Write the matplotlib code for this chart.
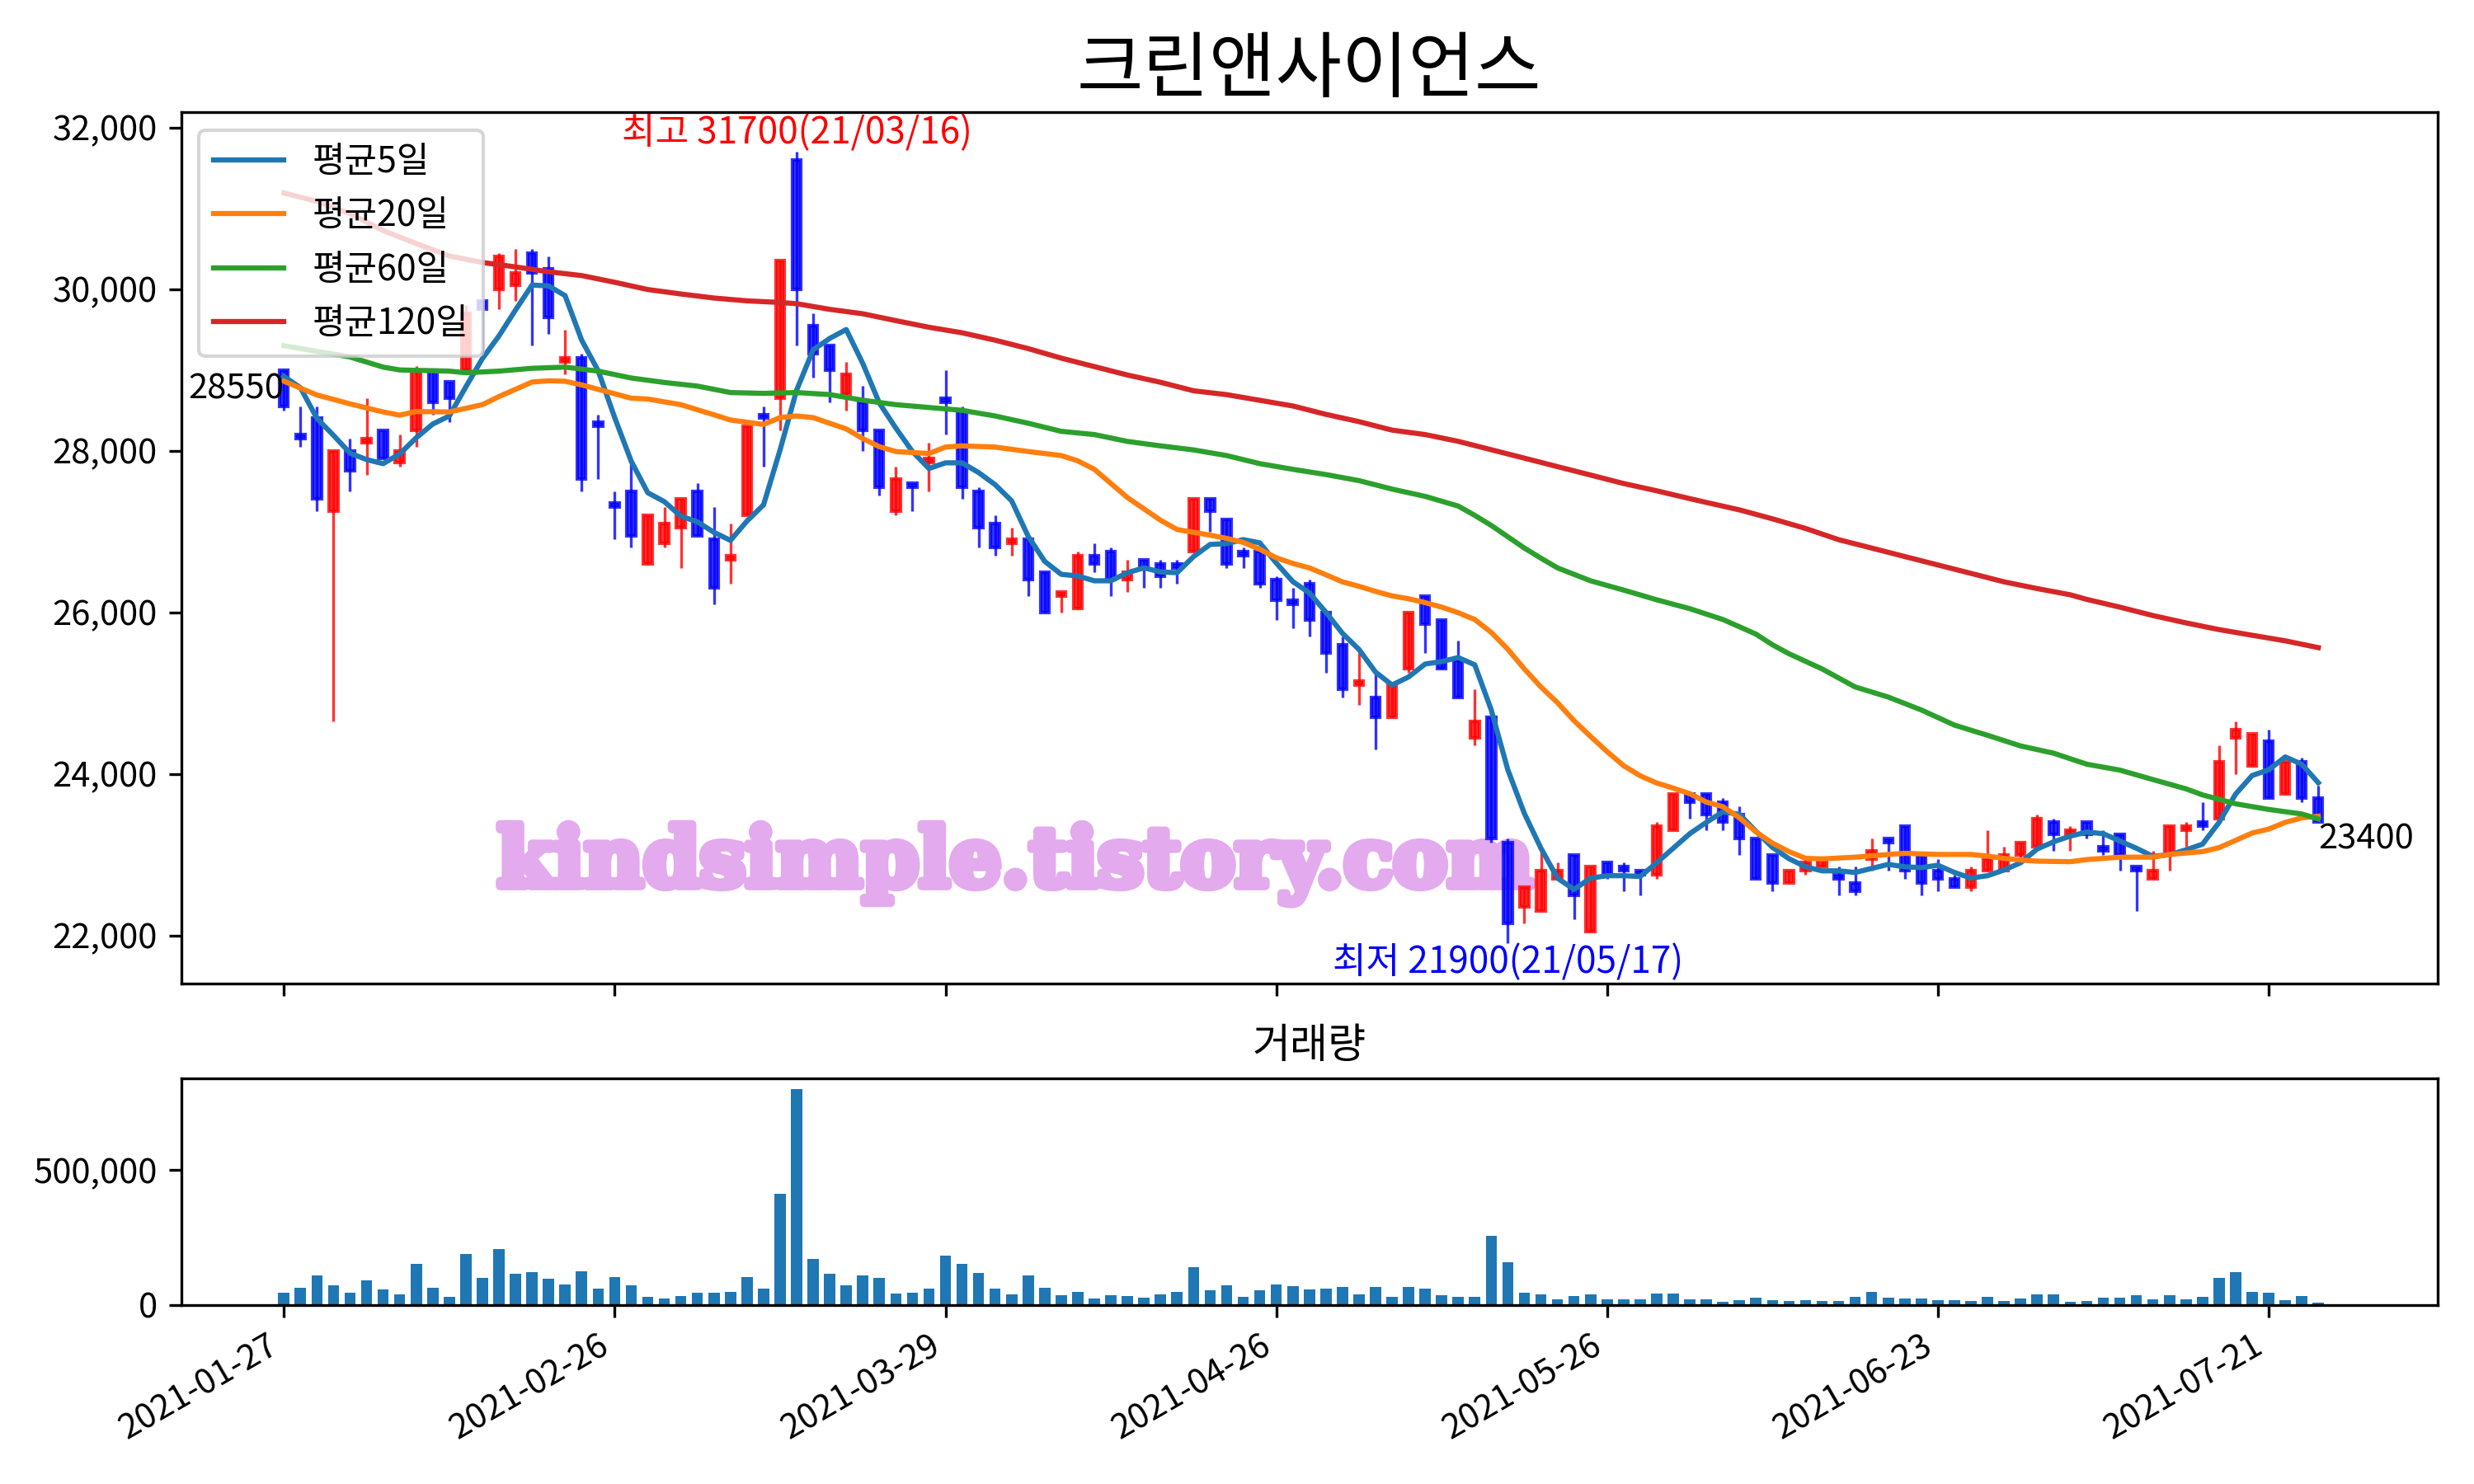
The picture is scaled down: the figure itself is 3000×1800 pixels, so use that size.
import numpy as np
import matplotlib
matplotlib.use('Agg')
import matplotlib.pyplot as plt
import matplotlib.patheffects as pe
from matplotlib.ticker import FuncFormatter

plt.rcParams['font.family'] = ['Noto Sans CJK KR', 'DejaVu Sans']
plt.rcParams['font.size'] = 10
plt.rcParams['axes.unicode_minus'] = False

title = '크린앤사이언스'
tick_labels = ['2021-01-27', '2021-02-26', '2021-03-29', '2021-04-26',
               '2021-05-26', '2021-06-23', '2021-07-21']

# daily OHLC, 2021-01-27 .. 2021-07-26 (trading days)
opens = [29000, 28200, 28400, 27250, 28000, 28100, 28250, 27850, 28250, 29000,
         28850, 29000, 29850, 30000, 30050, 30450, 30250, 29100, 29150, 28350,
         27350, 27500, 26600, 26850, 27050, 27500, 26900, 26650, 27200, 28450,
         28650, 31600, 29550, 29300, 28700, 28600, 28250, 27250, 27600, 27850,
         28650, 28500, 27500, 27100, 26850, 26900, 26500, 26200, 26050, 26700,
         26750, 26400, 26650, 26600, 26600, 26750, 27400, 27150, 26750, 26750,
         26400, 26150, 26350, 26000, 25600, 25100, 24950, 24700, 25300, 26200,
         25900, 25400, 24450, 24700, 23150, 22350, 22300, 22700, 23000, 22050,
         22900, 22850, 22800, 22750, 23300, 23750, 23750, 23650, 23500, 23200,
         23000, 22650, 22800, 22850, 22750, 22650, 22950, 23200, 23350, 23000,
         22800, 22700, 22600, 22800, 22800, 23000, 23100, 23400, 23250, 23400,
         23100, 23250, 22850, 22700, 23000, 23300, 23400, 23450, 24450, 24100,
         24400, 23750, 24150, 23700]
highs = [29000, 28550, 28550, 28000, 28150, 28650, 28250, 28200, 29050, 29000,
         28850, 29800, 29850, 30450, 30500, 30500, 30400, 29500, 29200, 28450,
         27500, 27850, 27200, 27300, 27400, 27600, 27300, 27100, 28300, 28550,
         30350, 31700, 29700, 29300, 29100, 28800, 28250, 27800, 27600, 28100,
         29000, 28550, 27550, 27200, 27050, 26900, 26500, 26250, 26750, 26850,
         26800, 26650, 26650, 26650, 26650, 27400, 27400, 27150, 26800, 26800,
         26450, 26300, 26400, 26000, 25700, 25500, 25250, 25100, 26000, 26200,
         25900, 25650, 25050, 24700, 23200, 22600, 23050, 22900, 23000, 22850,
         22900, 22900, 22800, 23400, 23750, 23750, 23750, 23700, 23600, 23200,
         23000, 22800, 22950, 22950, 22850, 22850, 23200, 23200, 23350, 23000,
         22950, 22750, 22850, 23300, 23100, 23150, 23500, 23450, 23350, 23400,
         23300, 23250, 22850, 23050, 23350, 23400, 23650, 24350, 24650, 24500,
         24550, 24150, 24200, 23850]
lows = [28500, 28050, 27250, 24650, 27500, 27700, 27900, 27800, 28050, 28450,
        28350, 29000, 29200, 29750, 29850, 29300, 29450, 28950, 27500, 27650,
        26900, 26800, 26600, 26800, 26550, 26950, 26100, 26350, 27200, 27800,
        28250, 29300, 28900, 28600, 28500, 28000, 27450, 27200, 27250, 27500,
        28200, 27400, 26800, 26700, 26700, 26200, 26000, 26000, 26050, 26500,
        26200, 26250, 26300, 26300, 26350, 26750, 27000, 26550, 26550, 26300,
        25900, 25800, 25700, 25250, 24950, 24850, 24300, 24700, 25250, 25500,
        25300, 24950, 24350, 23150, 21900, 22150, 22300, 22700, 22200, 22050,
        22700, 22550, 22500, 22700, 23300, 23450, 23300, 23300, 23000, 22700,
        22550, 22650, 22750, 22850, 22500, 22500, 22800, 22800, 22700, 22500,
        22550, 22600, 22550, 22800, 22800, 22950, 23100, 23050, 23050, 23200,
        23000, 22800, 22300, 22700, 22800, 23100, 23300, 23450, 24000, 24100,
        23700, 23750, 23650, 23400]
closes = [28550, 28150, 27400, 28000, 27750, 28150, 27900, 28000, 29000, 28600,
          28650, 29700, 29750, 30400, 30200, 30200, 29650, 29150, 27650, 28300,
          27300, 26950, 27200, 27100, 27400, 26950, 26300, 26700, 28300, 28400,
          30350, 30000, 29200, 29000, 28950, 28250, 27550, 27650, 27550, 27900,
          28600, 27550, 27050, 26800, 26900, 26400, 26000, 26250, 26700, 26600,
          26400, 26500, 26550, 26450, 26550, 27400, 27250, 26600, 26700, 26350,
          26150, 26100, 25900, 25500, 25050, 25150, 24700, 25100, 26000, 25850,
          25300, 24950, 24650, 23200, 22150, 22600, 22800, 22800, 22500, 22850,
          22750, 22800, 22750, 23350, 23750, 23650, 23500, 23400, 23200, 22700,
          22650, 22800, 22900, 22950, 22700, 22550, 23050, 23150, 22800, 22650,
          22700, 22600, 22800, 22950, 23000, 23150, 23450, 23250, 23300, 23250,
          23050, 23000, 22800, 22800, 23350, 23350, 23350, 24150, 24550, 24500,
          23700, 24150, 23700, 23400]
# closes of the four sessions before the window (seed for the 5-day average)
prior_closes = [28850, 29300, 29050, 28850]

volumes = [45, 63, 109, 72, 45, 91, 57, 39, 152, 63,
           30, 188, 100, 207, 115, 121, 97, 75, 124, 60,
           103, 72, 30, 23, 33, 45, 45, 48, 103, 60,
           411, 799, 170, 115, 72, 109, 100, 42, 45, 60,
           182, 152, 118, 60, 39, 109, 63, 36, 48, 23,
           36, 33, 26, 39, 48, 140, 54, 72, 30, 54,
           75, 69, 57, 60, 66, 39, 66, 30, 66, 60,
           36, 30, 30, 256, 158, 45, 39, 20, 33, 39,
           20, 20, 20, 42, 42, 20, 20, 11, 17, 26,
           17, 14, 17, 14, 14, 30, 48, 26, 23, 23,
           17, 17, 14, 30, 14, 23, 39, 39, 11, 14,
           26, 26, 36, 20, 36, 20, 30, 100, 121, 48,
           45, 17, 33, 8]  # thousand shares

# longer moving averages (day index, value)
ma20_idx = [0, 2, 4, 6, 7, 8, 10, 12, 13, 15, 16, 17, 18, 21, 22, 24, 26, 27, 29, 30,
            31, 32, 34, 35, 36, 37, 39, 40, 41, 43, 45, 47, 48, 49, 50, 51, 52, 53, 54, 55,
            56, 57, 58, 59, 60, 61, 62, 63, 64, 65, 66, 67, 68, 69, 70, 71, 72, 73, 74, 75,
            76, 77, 78, 79, 80, 81, 82, 83, 84, 85, 86, 87, 88, 89, 90, 91, 92, 93, 95, 97,
            98, 100, 102, 103, 104, 105, 106, 108, 109, 111, 113, 114, 116, 117, 118, 119, 120, 121, 122, 123]
ma20_val = [28860, 28690, 28580, 28480, 28440, 28485, 28480, 28570, 28670, 28850, 28865, 28860, 28815, 28650, 28640, 28570, 28445, 28380, 28325, 28410,
            28430, 28410, 28270, 28150, 28050, 27990, 27965, 28045, 28060, 28045, 27990, 27940, 27875, 27770, 27595, 27420, 27280, 27140, 27025, 26990,
            26955, 26915, 26865, 26780, 26675, 26605, 26550, 26465, 26377, 26322, 26259, 26203, 26168, 26120, 26064, 25995, 25911, 25751, 25542, 25299,
            25076, 24882, 24659, 24464, 24276, 24102, 23977, 23887, 23824, 23755, 23651, 23595, 23456, 23282, 23143, 23038, 22955, 22948, 22969, 23003,
            23017, 23003, 23003, 22983, 22955, 22934, 22920, 22913, 22940, 22969, 22969, 23003, 23038, 23087, 23177, 23268, 23317, 23400, 23456, 23476]
ma60_idx = [0, 2, 4, 6, 7, 10, 11, 13, 15, 17, 19, 21, 23, 25, 27, 29, 31, 33, 35, 37,
            39, 41, 43, 45, 47, 49, 51, 53, 55, 57, 59, 61, 63, 65, 67, 69, 71, 72, 73, 74,
            75, 76, 77, 78, 79, 81, 83, 85, 86, 87, 88, 89, 90, 91, 93, 95, 97, 99, 101, 103,
            105, 107, 109, 111, 113, 115, 116, 118, 120, 122, 123]
ma60_val = [29300, 29230, 29160, 29035, 29000, 28985, 28965, 28985, 29020, 29035, 28985, 28900, 28845, 28800, 28720, 28710, 28720, 28695, 28625, 28570,
            28535, 28500, 28430, 28340, 28240, 28200, 28115, 28060, 28010, 27940, 27840, 27770, 27705, 27630, 27525, 27435, 27315, 27200, 27075, 26935,
            26795, 26670, 26550, 26470, 26390, 26275, 26155, 26045, 25978, 25911, 25821, 25730, 25598, 25487, 25299, 25076, 24951, 24791, 24604, 24478,
            24346, 24256, 24120, 24047, 23930, 23815, 23740, 23630, 23560, 23504, 23442]
ma120_idx = [0, 2, 4, 6, 8, 10, 12, 14, 16, 18, 20, 22, 24, 26, 28, 30, 31, 33, 35, 37,
             39, 41, 43, 45, 47, 49, 51, 53, 55, 57, 59, 61, 63, 65, 67, 69, 71, 73, 75, 77,
             79, 81, 83, 85, 86, 88, 90, 92, 94, 96, 98, 100, 102, 104, 106, 108, 109, 111, 113, 115,
             117, 119, 121, 123]
ma120_val = [31190, 31085, 30935, 30725, 30565, 30410, 30330, 30275, 30215, 30168, 30085, 29995, 29940, 29890, 29855, 29835, 29820, 29750, 29695, 29610,
             29528, 29460, 29368, 29264, 29146, 29041, 28937, 28847, 28742, 28694, 28624, 28554, 28450, 28360, 28255, 28200, 28116, 28012, 27908, 27803,
             27699, 27594, 27504, 27407, 27360, 27268, 27157, 27038, 26899, 26795, 26690, 26586, 26482, 26377, 26294, 26217, 26160, 26064, 25960, 25869,
             25786, 25716, 25647, 25563]

o = np.array(opens)
h = np.array(highs)
l = np.array(lows)
c = np.array(closes)
x = np.arange(len(c))
vol = np.array(volumes) * 1000
ma5 = np.convolve(np.r_[prior_closes, c], np.ones(5) / 5, mode='valid')

fig = plt.figure(figsize=(10, 6), dpi=300)
ax = fig.add_axes([0.0733, 0.3375, 0.9119, 0.5869])
ax2 = fig.add_axes([0.0733, 0.1206, 0.9119, 0.1527], sharex=ax)

colors = np.where(c > o, 'red', 'blue')
ax.vlines(x, l, h, colors=colors, linewidth=0.8, alpha=0.8, zorder=2)
ax.bar(x, np.abs(c - o), bottom=np.minimum(o, c), width=0.52, color=colors,
       edgecolor=colors, linewidth=1.0, alpha=0.8, zorder=2)

ax.plot(x, ma5, color='C0', label='평균5일', zorder=3)
ax.plot(ma20_idx, ma20_val, color='C1', label='평균20일', zorder=3)
ax.plot(ma60_idx, ma60_val, color='C2', label='평균60일', zorder=3)
ax.plot(ma120_idx, ma120_val, color='C3', label='평균120일', zorder=3)
ax.legend(loc='upper left', fontsize=10.3)

imax = int(np.argmax(h))
imin = int(np.argmin(l))
ax.text(imax, h[imax], f'최고 {h[imax]}(21/03/16)', color='red', ha='center', va='bottom', fontsize=10.6)
ax.text(imin, l[imin], f'최저 {l[imin]}(21/05/17)', color='blue', ha='center', va='top', fontsize=10.6)
ax.text(x[0], c[0], str(c[0]), ha='right', va='bottom')
ax.text(x[-1], c[-1], str(c[-1]), ha='left', va='top')

ax.text(0.201, 0.403, 'kindsimple.tistory.com', transform=fig.transFigure,
        family='DejaVu Serif', fontweight='bold', fontsize=23.6, color='#e3aaee',
        ha='left', va='baseline', zorder=1,
        path_effects=[pe.withStroke(linewidth=2.5, foreground='#e3aaee')])

ax.set_title(title, fontsize=21)
ax.set_ylim(21410, 32190)
ax.set_xlim(-6.2, 130.2)
ax.yaxis.set_major_formatter(FuncFormatter(lambda v, p: f'{v:,.0f}'))
ax.tick_params(labelbottom=False)

ax2.bar(x, vol, width=0.68, color='C0')
ax2.set_title('거래량')
ax2.set_ylim(0, 839000)
ax2.yaxis.set_major_formatter(FuncFormatter(lambda v, p: f'{v:,.0f}'))
ax2.set_xticks(range(0, 121, 20))
ax2.set_xticklabels(tick_labels, rotation=30, ha='right')

fig.savefig('out.png')
